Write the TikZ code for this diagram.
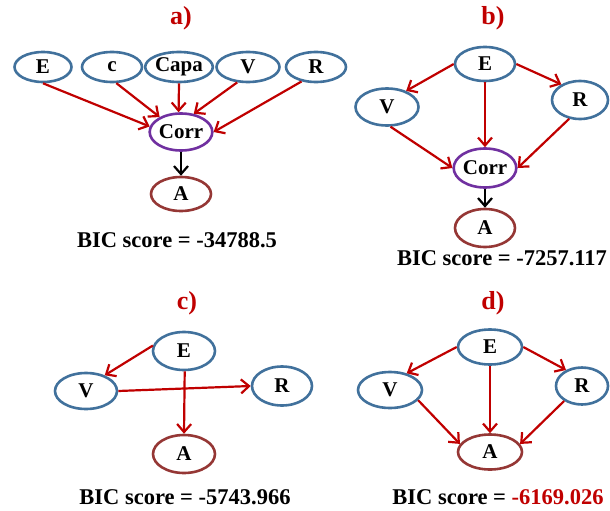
\documentclass[tikz,border=0pt]{standalone}
\usepackage{fontspec}
\setmainfont{Liberation Serif}
\usetikzlibrary{shapes.geometric, arrows.meta}
\definecolor{varblue}{RGB}{65,113,156}
\definecolor{arcred}{RGB}{192,0,0}
\definecolor{corrpurple}{RGB}{112,48,160}
\definecolor{abrown}{RGB}{149,55,53}
\tikzset{
  var/.style={ellipse, draw=varblue, line width=2.6pt, inner sep=0pt,
    minimum width=60pt, minimum height=34pt, font=\fontsize{21}{21}\selectfont\bfseries},
  corr/.style={var, draw=corrpurple, minimum height=37pt},
  target/.style={var, draw=abrown, minimum height=36pt},
  arc/.style={->, arcred, line width=2.2pt},
  blackarc/.style={->, black, line width=2.2pt},
  panel/.style={text=arcred, font=\fontsize{26}{26}\selectfont\bfseries},
  score/.style={font=\fontsize{22.5}{22.5}\selectfont\bfseries}
}
\begin{document}
\begin{tikzpicture}[x=1pt, y=-1pt, >={Straight Barb[length=8pt, width=14pt]}]
  \useasboundingbox (0,0) rectangle (610,511);
  % a)
  \node[panel] (alab) at (181,18) {a)};
  \node[var, minimum width=57pt, minimum height=30pt] (aE) at (43,67) {E};
  \node[var, minimum width=60pt, minimum height=30pt] (ac) at (112,67) {c};
  \node[var, minimum width=64pt, minimum height=30pt] (aCapa) at (179,67) {Capa};
  \node[var, minimum width=63pt, minimum height=30pt] (aV) at (248,67) {V};
  \node[var, minimum width=60pt, minimum height=30pt] (aR) at (316,67) {R};
  \node[corr] (aCorr) at (181,132) {Corr};
  \node[target, minimum height=34pt] (aA) at (181,194) {A};
  \node[score] (ascore) at (177,240) {BIC score = -34788.5};
  \draw[arc] (aE.south) -- (aCorr.170);
  \draw[arc] (ac.-75) -- (aCorr.145);
  \draw[arc] (aCapa.south) -- (aCorr.97);
  \draw[arc] (aV.-125) -- (aCorr.55);
  \draw[arc] (aR.-135) -- (aCorr.east);
  \draw[blackarc] (aCorr.south) -- (aA.north);
  % b)
  \node[panel] (blab) at (493,18) {b)};
  \node[var] (bE) at (485,64) {E};
  \node[var, minimum width=63pt, minimum height=37pt] (bV) at (387,107) {V};
  \node[var, minimum width=56pt, minimum height=38pt] (bR) at (580,100) {R};
  \node[corr, minimum height=39pt] (bCorr) at (485,168) {Corr};
  \node[target, minimum height=38pt] (bA) at (485,228) {A};
  \node[score] (bscore) at (502,258) {BIC score = -7257.117};
  \draw[arc] (bE.west) -- (bV.40);
  \draw[arc] (bE.east) -- (bR.140);
  \draw[arc] (bE.south) -- (bCorr.north);
  \draw[arc] (bV.-80) -- (bCorr.west);
  \draw[arc] (bR.-120) -- (bCorr.east);
  \draw[blackarc] (bCorr.south) -- (bA.north);
  % c)
  \node[panel] (clab) at (187,303) {c)};
  \node[var, minimum width=62pt, minimum height=38pt] (cE) at (184,351) {E};
  \node[var, minimum width=62pt, minimum height=36pt] (cV) at (86,391) {V};
  \node[var, minimum width=60pt, minimum height=39pt] (cR) at (282,386) {R};
  \node[target, minimum width=62pt, minimum height=38pt] (cA) at (184,454) {A};
  \node[score] (cscore) at (185,497) {BIC score = -5743.966};
  \draw[arc] (cE.170) -- (cV.40);
  \draw[arc] (cV.east) -- (cR.west);
  \draw[arc] (cE.-88) -- (cA.north);
  % d)
  \node[panel] (dlab) at (493,303) {d)};
  \node[var, minimum width=64pt, minimum height=35pt] (dE) at (490,347) {E};
  \node[var, minimum width=64pt, minimum height=36pt] (dV) at (390,390) {V};
  \node[var, minimum width=52pt, minimum height=37pt] (dR) at (582,386) {R};
  \node[target, minimum width=64pt, minimum height=35pt] (dA) at (490,452) {A};
  \node[score] (dscore) at (498,497) {BIC score = \textcolor{arcred}{-6169.026}};
  \draw[arc] (dE.west) -- (dV.45);
  \draw[arc] (dE.east) -- (dR.135);
  \draw[arc] (dE.south) -- (dA.north);
  \draw[arc] (dV.-20) -- (dA.165);
  \draw[arc] (dR.-140) -- (dA.15);
\end{tikzpicture}
\end{document}
